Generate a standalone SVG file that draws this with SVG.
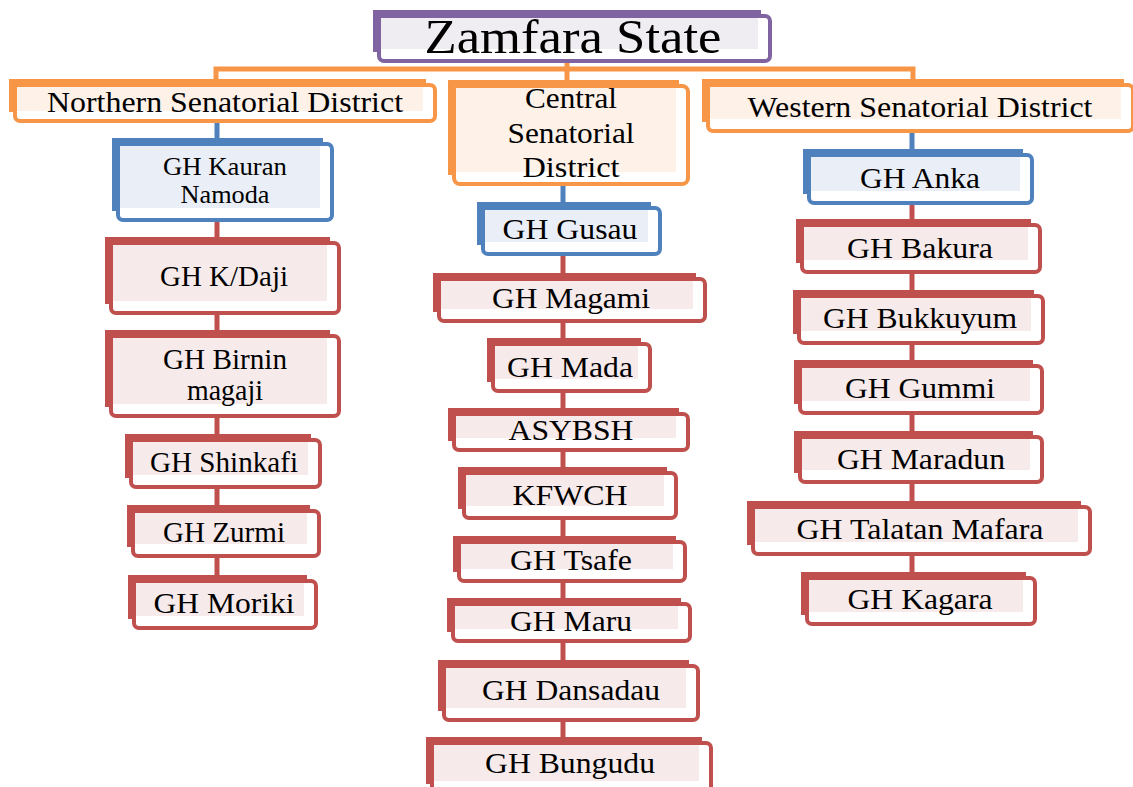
<svg xmlns="http://www.w3.org/2000/svg" width="1133" height="787" viewBox="0 0 1133 787" font-family="Liberation Serif" text-anchor="middle">
<style>
.s{fill:#fff;stroke-width:4}
.e{fill:none;stroke-width:6;stroke-linecap:square}
.P .s,.P .e{stroke:#8064A2}.P .f{fill:#EFECF2}
.O .s,.O .e{stroke:#F79646}.O .f{fill:#FDF1E8}
.B .s,.B .e{stroke:#4F81BD}.B .f{fill:#EAEFF7}
.R .s,.R .e{stroke:#C0504D}.R .f{fill:#F6EAEA}
.t26{font-size:28.5px}
.d{font-size:29.5px}
.c{fill:none;stroke-width:5}
</style>
<rect width="1133" height="787" fill="#fff"/>
<g id="connectors">
<path class="c" stroke="#F79646" d="M567,60 V69 M216,80 V69 H913 V80 M567,69 V82"/>
<path class="c" stroke="#4F81BD" d="M217,122 V140 M563,185 V204 M912,132 V151"/>
<path class="c" stroke="#C0504D" d="M217,222 V578 M563,256 V740 M912,205 V574"/>
</g>
<g id="zamfara" class="P"><rect class="s" x="379" y="16" width="391" height="45" rx="5"/><rect class="f" x="381" y="18" width="377" height="31"/><path class="e" d="M376,49 V13 H758"/><text x="573" y="53" font-size="49" textLength="297" lengthAdjust="spacingAndGlyphs">Zamfara State</text></g>
<g id="northern" class="O"><rect class="s" x="15" y="85" width="420" height="36" rx="5"/><rect class="f" x="17" y="87" width="406" height="24"/><path class="e" d="M12,109 V82 H423"/><text class="d" x="225" y="112" textLength="356" lengthAdjust="spacingAndGlyphs">Northern Senatorial District</text></g>
<g id="central" class="O"><rect class="s" x="454" y="86" width="234" height="98" rx="6"/><rect class="f" x="456" y="88" width="220" height="84"/><path class="e" d="M451,172 V83 H676"/><text class="d" x="571" y="108" textLength="92" lengthAdjust="spacingAndGlyphs">Central</text><text class="d" x="571" y="143" textLength="127" lengthAdjust="spacingAndGlyphs">Senatorial</text><text class="d" x="571" y="177" textLength="97" lengthAdjust="spacingAndGlyphs">District</text></g>
<g id="western" class="O"><rect class="s" x="708" y="85" width="425" height="46" rx="5"/><rect class="f" x="710" y="87" width="411" height="32"/><path class="e" d="M705,119 V82 H1121"/><text class="d" x="920" y="117" textLength="345" lengthAdjust="spacingAndGlyphs">Western Senatorial District</text></g>
<g id="kauran" class="B"><rect class="s" x="118" y="144" width="214" height="76" rx="5"/><rect class="f" x="120" y="146" width="200" height="62"/><path class="e" d="M115,208 V141 H320"/><text x="225" y="175" font-size="24.5" textLength="124" lengthAdjust="spacingAndGlyphs">GH Kauran</text><text x="225" y="203" font-size="24.5" textLength="89" lengthAdjust="spacingAndGlyphs">Namoda</text></g>
<g id="gusau" class="B"><rect class="s" x="483" y="208" width="177" height="46" rx="5"/><rect class="f" x="485" y="210" width="163" height="32"/><path class="e" d="M480,242 V205 H648"/><text class="t26" x="570" y="239" textLength="135" lengthAdjust="spacingAndGlyphs">GH Gusau</text></g>
<g id="anka" class="B"><rect class="s" x="809" y="155" width="223" height="48" rx="5"/><rect class="f" x="811" y="157" width="209" height="34"/><path class="e" d="M806,191 V152 H1020"/><text class="t26" x="920" y="188" textLength="120" lengthAdjust="spacingAndGlyphs">GH Anka</text></g>
<g id="kdaji" class="R"><rect class="s" x="111" y="243" width="228" height="70" rx="5"/><rect class="f" x="113" y="245" width="214" height="56"/><path class="e" d="M108,301 V240 H327"/><text class="t26" x="224" y="286" textLength="128" lengthAdjust="spacingAndGlyphs">GH K/Daji</text></g>
<g id="birnin" class="R"><rect class="s" x="111" y="336" width="228" height="80" rx="5"/><rect class="f" x="113" y="338" width="214" height="66"/><path class="e" d="M108,404 V333 H327"/><text class="t26" x="225" y="369" textLength="124" lengthAdjust="spacingAndGlyphs">GH Birnin</text><text class="t26" x="225" y="400" textLength="76" lengthAdjust="spacingAndGlyphs">magaji</text></g>
<g id="shinkafi" class="R"><rect class="s" x="131" y="440" width="189" height="47" rx="5"/><rect class="f" x="133" y="442" width="175" height="33"/><path class="e" d="M128,475 V437 H308"/><text class="t26" x="224" y="472" textLength="148" lengthAdjust="spacingAndGlyphs">GH Shinkafi</text></g>
<g id="zurmi" class="R"><rect class="s" x="133" y="511" width="186" height="45" rx="5"/><rect class="f" x="135" y="513" width="172" height="31"/><path class="e" d="M130,544 V508 H307"/><text class="t26" x="224" y="542" textLength="122" lengthAdjust="spacingAndGlyphs">GH Zurmi</text></g>
<g id="moriki" class="R"><rect class="s" x="134" y="581" width="182" height="47" rx="5"/><rect class="f" x="136" y="583" width="168" height="33"/><path class="e" d="M131,616 V578 H304"/><text class="t26" x="224" y="613" textLength="141" lengthAdjust="spacingAndGlyphs">GH Moriki</text></g>
<g id="magami" class="R"><rect class="s" x="439" y="279" width="266" height="42" rx="5"/><rect class="f" x="441" y="281" width="252" height="28"/><path class="e" d="M436,309 V276 H693"/><text class="t26" x="571" y="308" textLength="158" lengthAdjust="spacingAndGlyphs">GH Magami</text></g>
<g id="mada" class="R"><rect class="s" x="493" y="344" width="157" height="47" rx="5"/><rect class="f" x="495" y="346" width="143" height="33"/><path class="e" d="M490,379 V341 H638"/><text class="t26" x="570" y="377" textLength="126" lengthAdjust="spacingAndGlyphs">GH Mada</text></g>
<g id="asybsh" class="R"><rect class="s" x="454" y="414" width="234" height="36" rx="5"/><rect class="f" x="456" y="416" width="220" height="22"/><path class="e" d="M451,438 V411 H676"/><text class="t26" x="571" y="440" textLength="125" lengthAdjust="spacingAndGlyphs">ASYBSH</text></g>
<g id="kfwch" class="R"><rect class="s" x="464" y="473" width="212" height="45" rx="5"/><rect class="f" x="466" y="475" width="198" height="31"/><path class="e" d="M461,506 V470 H664"/><text class="t26" x="570" y="505" textLength="115" lengthAdjust="spacingAndGlyphs">KFWCH</text></g>
<g id="tsafe" class="R"><rect class="s" x="459" y="542" width="226" height="39" rx="5"/><rect class="f" x="461" y="544" width="212" height="25"/><path class="e" d="M456,569 V539 H673"/><text class="t26" x="571" y="570" textLength="122" lengthAdjust="spacingAndGlyphs">GH Tsafe</text></g>
<g id="maru" class="R"><rect class="s" x="453" y="604" width="237" height="37" rx="5"/><rect class="f" x="455" y="606" width="223" height="23"/><path class="e" d="M450,629 V601 H678"/><text class="t26" x="571" y="631" textLength="122" lengthAdjust="spacingAndGlyphs">GH Maru</text></g>
<g id="dansadau" class="R"><rect class="s" x="444" y="666" width="254" height="54" rx="5"/><rect class="f" x="446" y="668" width="240" height="40"/><path class="e" d="M441,708 V663 H686"/><text class="t26" x="571" y="700" textLength="178" lengthAdjust="spacingAndGlyphs">GH Dansadau</text></g>
<g id="bungudu" class="R"><rect class="s" x="432" y="743" width="279" height="50" rx="5"/><rect class="f" x="434" y="745" width="265" height="36"/><path class="e" d="M429,781 V740 H699"/><text class="t26" x="570" y="773" textLength="170" lengthAdjust="spacingAndGlyphs">GH Bungudu</text></g>
<g id="bakura" class="R"><rect class="s" x="802" y="225" width="238" height="47" rx="5"/><rect class="f" x="804" y="227" width="224" height="33"/><path class="e" d="M799,260 V222 H1028"/><text class="t26" x="920" y="258" textLength="146" lengthAdjust="spacingAndGlyphs">GH Bakura</text></g>
<g id="bukkuyum" class="R"><rect class="s" x="799" y="296" width="244" height="47" rx="5"/><rect class="f" x="801" y="298" width="230" height="33"/><path class="e" d="M796,331 V293 H1031"/><text class="t26" x="920" y="328" textLength="194" lengthAdjust="spacingAndGlyphs">GH Bukkuyum</text></g>
<g id="gummi" class="R"><rect class="s" x="800" y="366" width="242" height="47" rx="5"/><rect class="f" x="802" y="368" width="228" height="33"/><path class="e" d="M797,401 V363 H1030"/><text class="t26" x="920" y="398" textLength="150" lengthAdjust="spacingAndGlyphs">GH Gummi</text></g>
<g id="maradun" class="R"><rect class="s" x="800" y="437" width="242" height="45" rx="5"/><rect class="f" x="802" y="439" width="228" height="31"/><path class="e" d="M797,470 V434 H1030"/><text class="t26" x="921" y="469" textLength="168" lengthAdjust="spacingAndGlyphs">GH Maradun</text></g>
<g id="talatan" class="R"><rect class="s" x="753" y="507" width="337" height="47" rx="5"/><rect class="f" x="755" y="509" width="323" height="33"/><path class="e" d="M750,542 V504 H1078"/><text class="t26" x="920" y="539" textLength="247" lengthAdjust="spacingAndGlyphs">GH Talatan Mafara</text></g>
<g id="kagara" class="R"><rect class="s" x="807" y="578" width="228" height="46" rx="5"/><rect class="f" x="809" y="580" width="214" height="32"/><path class="e" d="M804,612 V575 H1023"/><text class="t26" x="920" y="609" textLength="145" lengthAdjust="spacingAndGlyphs">GH Kagara</text></g>
</svg>
